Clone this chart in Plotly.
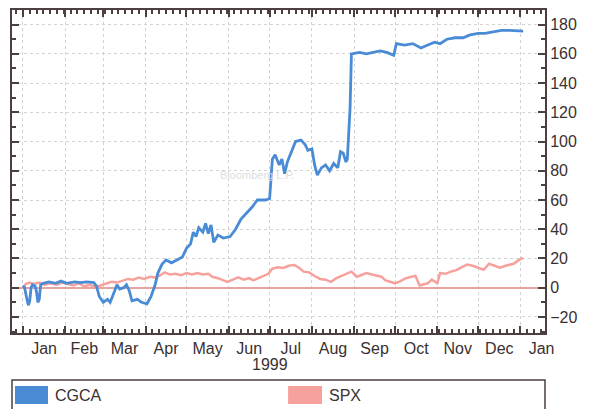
import plotly.graph_objects as go

# ---- data ----
cgca_dates = [
    "1999-01-01", "1999-01-02", "1999-01-04", "1999-01-05", "1999-01-06", "1999-01-07",
    "1999-01-08", "1999-01-10", "1999-01-11", "1999-01-12", "1999-01-13", "1999-01-14",
    "1999-01-16", "1999-01-20", "1999-01-25", "1999-01-29", "1999-02-02", "1999-02-08",
    "1999-02-12", "1999-02-17", "1999-02-22", "1999-02-24", "1999-02-26", "1999-03-01",
    "1999-03-04", "1999-03-06", "1999-03-09", "1999-03-11", "1999-03-13", "1999-03-16",
    "1999-03-18", "1999-03-20", "1999-03-22", "1999-03-26", "1999-03-29", "1999-04-02",
    "1999-04-05", "1999-04-08", "1999-04-10", "1999-04-13", "1999-04-16", "1999-04-20",
    "1999-04-24", "1999-04-28", "1999-05-01", "1999-05-04", "1999-05-06", "1999-05-08",
    "1999-05-10", "1999-05-13", "1999-05-15", "1999-05-17", "1999-05-19", "1999-05-21",
    "1999-05-24", "1999-05-28", "1999-06-02", "1999-06-06", "1999-06-10", "1999-06-14",
    "1999-06-18", "1999-06-22", "1999-06-28", "1999-07-01", "1999-07-03", "1999-07-05",
    "1999-07-08", "1999-07-10", "1999-07-12", "1999-07-14", "1999-07-17", "1999-07-20",
    "1999-07-24", "1999-07-27", "1999-07-29", "1999-08-01", "1999-08-03", "1999-08-05",
    "1999-08-08", "1999-08-11", "1999-08-14", "1999-08-17", "1999-08-20", "1999-08-22",
    "1999-08-24", "1999-08-26", "1999-08-27", "1999-08-29", "1999-08-30", "1999-09-05",
    "1999-09-10", "1999-09-15", "1999-09-20", "1999-09-25", "1999-09-30", "1999-10-02",
    "1999-10-08", "1999-10-14", "1999-10-20", "1999-10-25", "1999-10-30", "1999-11-03",
    "1999-11-08", "1999-11-14", "1999-11-20", "1999-11-25", "1999-12-01", "1999-12-06",
    "1999-12-12", "1999-12-18", "1999-12-24", "2000-01-03",
]
cgca_values = [
    0, 1, -8, -12, -9, 0,
    2, 1, -3, -10, -8, 2,
    3, 4, 3, 4.5, 3, 4,
    3.5, 4, 3.5, 1, -6, -10,
    -8, -10, -3, 2, -1, 0,
    2, -2, -9, -8, -10, -11,
    -6, 2, 10, 16, 19, 17,
    19, 21, 27, 30, 38, 35,
    41, 38, 44, 37, 43, 31,
    36, 34, 35, 40, 47, 51,
    55, 60, 60, 61, 88, 91,
    84, 88, 78, 86, 93, 100,
    101, 98, 94, 95, 84, 77,
    82, 84, 80, 85, 82, 93,
    92, 86, 88, 123, 160, 161,
    160, 161, 162, 161, 159, 167,
    166, 167, 164, 166, 168, 167,
    170, 171, 171, 173, 174, 174,
    175, 176, 176, 175.5,
]

spx_dates = [
    "1999-01-01", "1999-01-03", "1999-01-06", "1999-01-09", "1999-01-13", "1999-01-17",
    "1999-01-21", "1999-01-26", "1999-01-30", "1999-02-03", "1999-02-07", "1999-02-11",
    "1999-02-15", "1999-02-19", "1999-02-23", "1999-02-27", "1999-03-03", "1999-03-07",
    "1999-03-11", "1999-03-15", "1999-03-19", "1999-03-23", "1999-03-27", "1999-03-31",
    "1999-04-04", "1999-04-08", "1999-04-12", "1999-04-15", "1999-04-19", "1999-04-23",
    "1999-04-27", "1999-05-01", "1999-05-05", "1999-05-09", "1999-05-13", "1999-05-17",
    "1999-05-20", "1999-05-24", "1999-05-28", "1999-05-31", "1999-06-04", "1999-06-08",
    "1999-06-12", "1999-06-16", "1999-06-19", "1999-06-23", "1999-06-27", "1999-06-30",
    "1999-07-03", "1999-07-07", "1999-07-11", "1999-07-15", "1999-07-19", "1999-07-22",
    "1999-07-26", "1999-07-30", "1999-08-03", "1999-08-07", "1999-08-11", "1999-08-15",
    "1999-08-19", "1999-08-23", "1999-08-27", "1999-08-30", "1999-09-03", "1999-09-07",
    "1999-09-10", "1999-09-14", "1999-09-18", "1999-09-21", "1999-09-24", "1999-09-28",
    "1999-10-01", "1999-10-05", "1999-10-09", "1999-10-13", "1999-10-16", "1999-10-19",
    "1999-10-22", "1999-10-25", "1999-10-28", "1999-11-01", "1999-11-03", "1999-11-07",
    "1999-11-11", "1999-11-15", "1999-11-19", "1999-11-23", "1999-11-27", "1999-12-01",
    "1999-12-05", "1999-12-09", "1999-12-13", "1999-12-17", "1999-12-21", "1999-12-27",
    "1999-12-31", "2000-01-03",
]
spx_values = [
    0, 2.5, 3.5, 2.5, 3.5, 2,
    3, 2, 3.5, 2.5, 1.5, 3,
    1, 2, 0.5, 1.5, 2.5, 4,
    3.5, 4.5, 6, 5.5, 7, 6,
    7.5, 7, 8.5, 10.5, 9, 9.5,
    8.5, 10, 9, 10, 9, 9.5,
    7.5, 6.5, 5, 4, 5.5, 7,
    5.5, 6.5, 5, 6.5, 8.5, 9.5,
    13, 14, 13.5, 15, 15.5, 14,
    11, 10.5, 8, 6, 5.5, 4,
    6.5, 8, 10, 11, 7.5, 9,
    10, 9, 8, 7.5, 5, 4,
    3, 4.5, 6.5, 7.5, 8, 1.5,
    2, 3, 5.5, 3, 10, 9.5,
    11, 12, 14, 15.8, 15, 13.5,
    12.3, 16.4, 15, 13.7, 15, 16.4,
    19, 20.5,
]

series_names = ["CGCA", "SPX"]
series_colors = ["#4a8bd6", "#f6a19c"]
x_title = "1999"

AXIS = "#4d3f3f"
TXT = "#3a3030"
FONT = "Liberation Sans, Arial, sans-serif"

fig = go.Figure()
fig.add_trace(go.Scatter(x=spx_dates, y=spx_values, mode="lines",
                         line=dict(color=series_colors[1], width=2.5),
                         name=series_names[1], showlegend=False))
fig.add_trace(go.Scatter(x=cgca_dates, y=cgca_values, mode="lines",
                         line=dict(color=series_colors[0], width=2.8),
                         name=series_names[0], showlegend=False))

# the page body adds an 8px offset, so the figure is 8px smaller
fig.update_layout(
    width=584, height=401,
    margin=dict(l=4, r=47, t=2, b=76, autoexpand=False),
    paper_bgcolor="white", plot_bgcolor="white",
    font=dict(family=FONT, size=16, color=TXT),
    showlegend=False,
)

fig.update_xaxes(
    type="date", automargin=False,
    range=["1998-12-24", "2000-01-19"],
    dtick="M1", tick0="1999-01-01", tickformat="%b",
    ticklabelmode="period",
    ticks="inside", ticklen=7, tickwidth=1.5, tickcolor=AXIS,
    minor=dict(dtick=5 * 86400000, tick0="1999-01-01", ticks="inside",
               ticklen=4, tickcolor=AXIS, showgrid=False),
    showline=True, linecolor=AXIS, linewidth=2, mirror="allticks",
    showgrid=True, gridcolor="#d2d2d2", griddash="3px,3px", gridwidth=1,
    tickfont=dict(size=16, color=TXT),
    zeroline=False,
)
fig.update_yaxes(
    range=[-31, 190], dtick=20, side="right", automargin=False,
    ticks="inside", ticklen=7, tickwidth=1.5, tickcolor=AXIS,
    minor=dict(dtick=10, ticks="inside", ticklen=4, tickcolor=AXIS, showgrid=False),
    showline=True, linecolor=AXIS, linewidth=2, mirror="allticks",
    showgrid=True, gridcolor="#d2d2d2", griddash="3px,3px", gridwidth=1,
    zeroline=True, zerolinecolor="#e6a3a0", zerolinewidth=1.5,
    tickfont=dict(size=16, color=TXT),
)

# x-axis year label
fig.add_annotation(text=x_title, xref="paper", yref="paper", x=0.484, y=-0.099,
                   showarrow=False, font=dict(size=16, color=TXT),
                   xanchor="center", yanchor="middle")

# faint watermark
fig.add_annotation(text="Bloomberg L.P.", xref="paper", yref="paper", x=0.46, y=0.49,
                   showarrow=False, font=dict(size=11, color="#dddddd"))

# legend box drawn below the plot
fig.add_shape(type="rect", xref="paper", yref="paper", x0=0, x1=1, y0=-0.26, y1=-0.1455,
              line=dict(color=AXIS, width=1.5), fillcolor="white", layer="above")
swatch_x = [(0.0056, 0.0675), (0.518, 0.5816)]
text_x = [0.076, 0.591]
for i, name in enumerate(series_names):
    fig.add_shape(type="rect", xref="paper", yref="paper",
                  x0=swatch_x[i][0], x1=swatch_x[i][1], y0=-0.2198, y1=-0.164,
                  line=dict(width=0), fillcolor=series_colors[i], layer="above")
    fig.add_annotation(text=name, xref="paper", yref="paper", x=text_x[i], y=-0.192,
                       showarrow=False, xanchor="left", yanchor="middle",
                       font=dict(size=16, color=TXT))

fig.write_html("out.html")
